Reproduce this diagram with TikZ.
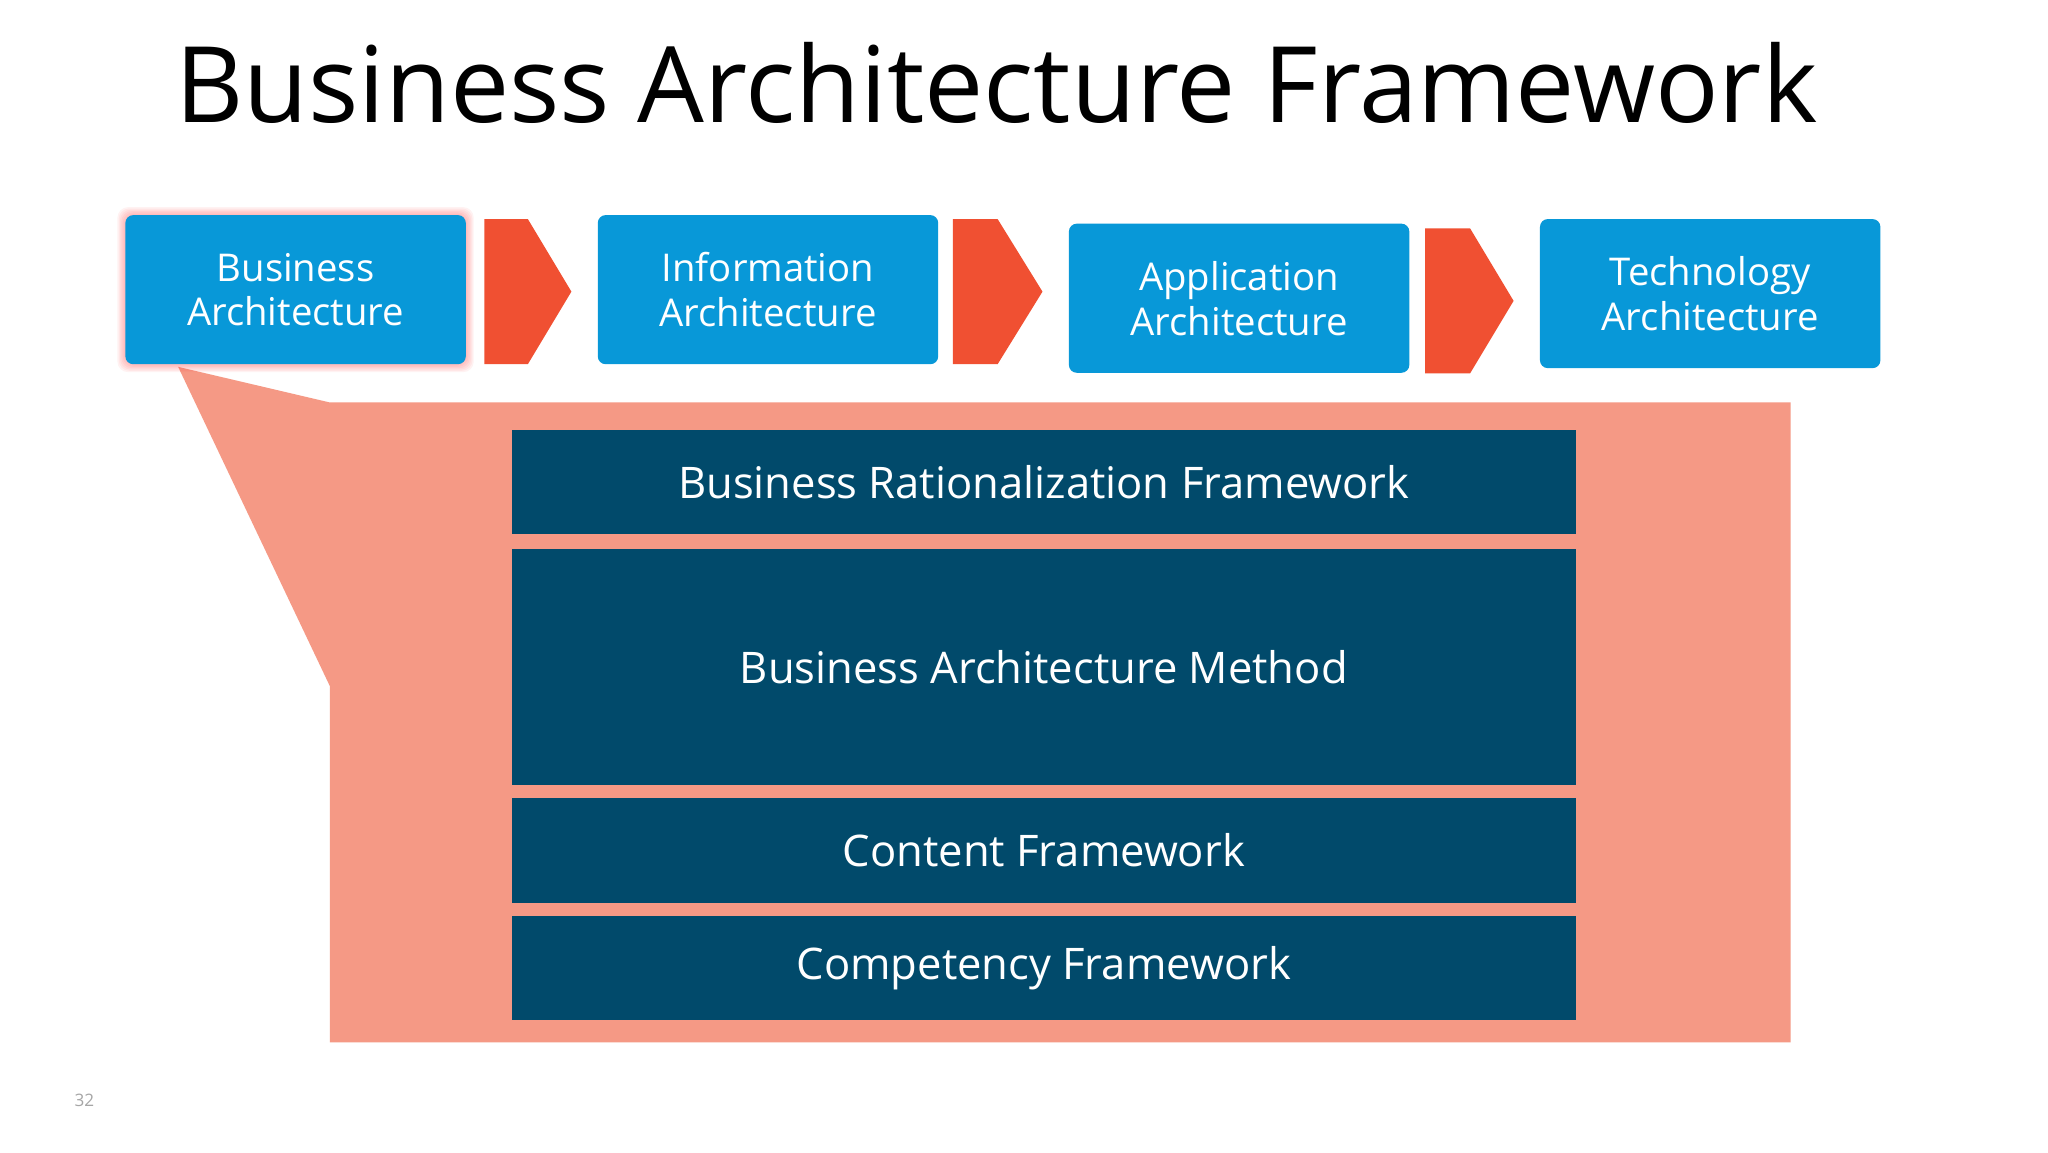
\documentclass[tikz,border=0pt]{standalone}
\usepackage{fontspec}
\setmainfont{Open Sans}
\definecolor{blu}{HTML}{0898D8}
\definecolor{chev}{HTML}{F05032}
\definecolor{salm}{HTML}{F59985}
\definecolor{dark}{HTML}{014A6B}
\begin{document}
\begin{tikzpicture}[x=1pt,y=-1pt,
 top/.style={fill=blu,rounded corners=6pt,text=white,font=\fontsize{29}{34}\selectfont,align=center,minimum width=258pt,minimum height=113pt,inner sep=0pt},
 bar/.style={fill=dark,text=white,font=\fontsize{33}{38}\selectfont,minimum width=806pt,inner sep=0pt},
 chv/.style={fill=chev}]
\useasboundingbox (0,0) rectangle (1552,873);
\fill[white] (0,0) rectangle (1552,873);
\node[font=\fontsize{80}{90}\selectfont] (title) at (755,63) {Business Architecture Framework};
\fill[salm] (135,278) -- (250,305) -- (1357,305) -- (1357,790) -- (250,790) -- (250,520) -- cycle;
\foreach \i in {1,...,6}{\fill[red!70,opacity=0.07,rounded corners=8pt] (95-\i,163-\i) rectangle (353+\i,276+\i);}
\node[top] (ba) at (224,219.5) {Business\\Architecture};
\node[top] (ia) at (582,219.5) {Information\\Architecture};
\node[top] (aa) at (939,226) {Application\\Architecture};
\node[top] (ta) at (1296,222.5) {Technology\\Architecture};
\fill[chv] (367,166) -- (400,166) -- (433,221) -- (400,276) -- (367,276) -- cycle;
\fill[chv] (722,166) -- (756,166) -- (790,221) -- (756,276) -- (722,276) -- cycle;
\fill[chv] (1080,173) -- (1114,173) -- (1147,228) -- (1114,283) -- (1080,283) -- cycle;
\node[bar,minimum height=79pt] (b1) at (791,365.5) {Business Rationalization Framework};
\node[bar,minimum height=179pt] (b2) at (791,505.5) {Business Architecture Method};
\node[bar,minimum height=79pt] (b3) at (791,644.5) {Content Framework};
\node[bar,minimum height=79pt] (b4) at (791,733.5) {Competency Framework};
\node[text=gray!70,font=\fontsize{13}{15}\selectfont] (pg) at (64,834) {32};
\end{tikzpicture}
\end{document}
